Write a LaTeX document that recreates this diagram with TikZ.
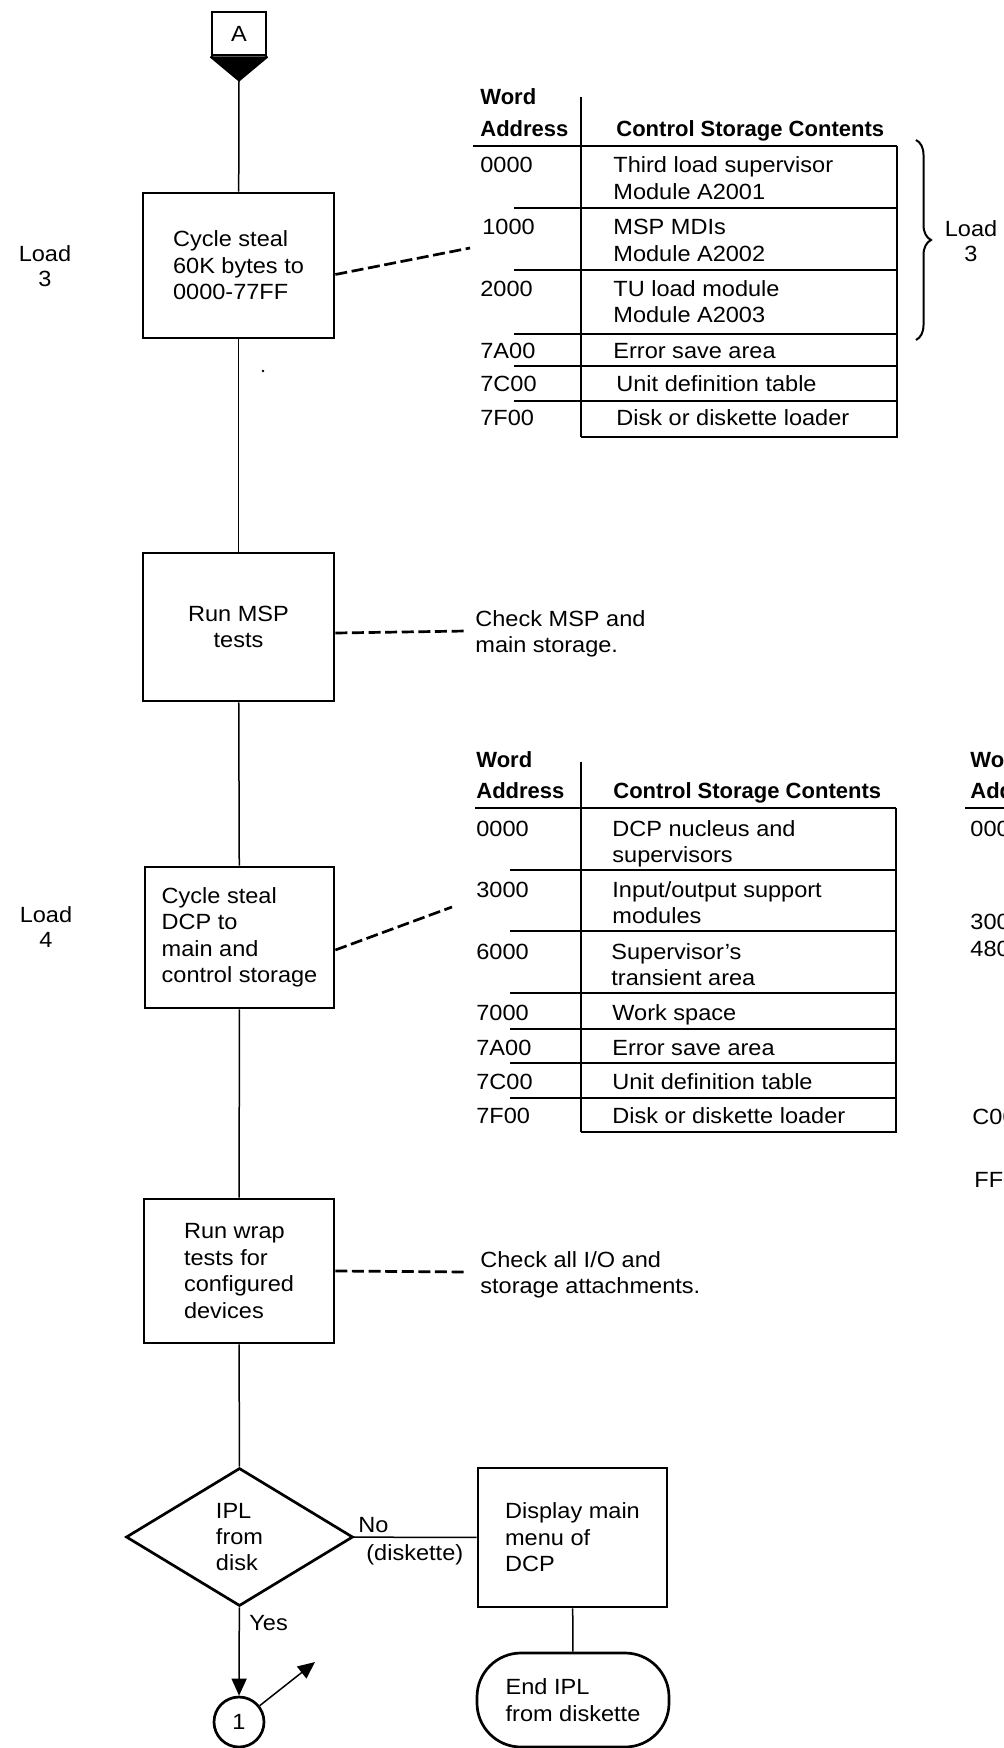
\documentclass[tikz,border=0pt]{standalone}
\usepackage{fontspec}
\setmainfont{Liberation Sans}[FakeStretch=1.07]
\newfontfamily\hdrfont{Liberation Sans}
\usetikzlibrary{shapes.geometric,arrows.meta,decorations.pathreplacing,calc}
\newcommand\mytcell[4]{\node[txt] (#1) at (#2,#3) {#4};}
\newcommand\myhcell[4]{\node[hdrtxt] (#1) at (#2,#3) {#4};}
\tikzset{
  boxnode/.style={draw, line width=1.35pt, inner sep=0pt, align=left},
  flowline/.style={line width=0.75pt},
  dashconn/.style={line width=1.35pt, dash pattern=on 6pt off 2.3pt},
  tblline/.style={line width=0.7pt},
  txt/.style={inner sep=0pt, anchor=base west},
  hdrtxt/.style={inner sep=0pt, anchor=base west, font=\hdrfont\bfseries\fontsize{11}{13.2}\selectfont},
  lbl/.style={inner sep=0pt, align=center, font=\fontsize{11}{12.5}\selectfont},
  arr/.style={-{Triangle[length=8.5pt,width=7.5pt]}}
}
\begin{document}
\begin{tikzpicture}[x=0.5pt,y=-0.5pt, every node/.style={font=\fontsize{11}{13.2}\selectfont}]
\useasboundingbox (0,0) rectangle (1004,1748);
\clip (0,0) rectangle (1004,1748);

% off-page connector A
\node[draw, line width=1.35pt, minimum width=27pt, minimum height=21.5pt, inner sep=0pt] (A) at (239,33.5) {A};
\coordinate (Atip) at (239,80);
\fill (A.south west) -- (A.south east) -- (Atip) -- cycle;
\draw[line width=1.35pt] (A.south west) -- (Atip) -- (A.south east);

% process boxes
\node[boxnode, minimum width=95.5pt, minimum height=72.5pt] (b1) at (238.5,265.5) {Cycle steal\\60K bytes to\\0000-77FF};
\node[boxnode, align=center, minimum width=95.5pt, minimum height=74pt] (b2) at (238.5,627) {Run MSP\\tests};
\node[boxnode, minimum width=94.5pt, minimum height=70.5pt] (b3) at (239.5,937.5) {Cycle steal\\DCP to\\main and\\control storage};
\node[boxnode, minimum width=95pt, minimum height=72pt] (b4) at (239,1271) {Run wrap\\tests for\\configured\\devices};
\node[draw, diamond, line width=1.35pt, minimum width=113.5pt, minimum height=69pt, inner sep=0pt, align=left] (dia) at (239.5,1537) {IPL\\from\\disk};
\node[boxnode, minimum width=94.5pt, minimum height=69.5pt] (b5) at (572.5,1537.5) {Display main\\menu of\\DCP};
\node[draw, line width=1.35pt, rounded corners=22pt, minimum width=96pt, minimum height=47pt, inner sep=0pt, align=left] (term) at (573,1700) {End IPL\\from diskette};
\node[draw, circle, line width=1.35pt, minimum size=25pt, inner sep=0pt] (c1) at (239,1722) {1};
\coordinate (out) at (315,1662);

% flow connectors
\draw[flowline] (Atip) -- (b1);
\draw[flowline] (b1) -- (b2);
\draw[flowline] (b2) -- (b3);
\draw[flowline] (b3) -- (b4);
\draw[flowline] (b4) -- (dia);
\draw[flowline, arr] (dia) -- (c1);
\draw[flowline] (dia) -- (b5);
\draw[flowline] (b5) -- (term);
\draw[flowline, arr] (c1) -- (out);

\node[txt] (no) at (358,1532) {No};
\node[txt] (nodk) at (366,1560) {(diskette)};
\node[txt] (yes) at (249,1630) {Yes};

% dashed annotation connectors
\coordinate (d1e) at (470,248);
\coordinate (d2e) at (467,631);
\coordinate (d3e) at (452,907);
\coordinate (d4e) at (468,1272);
\draw[dashconn] ([yshift=-4.5pt]b1.east) -- (d1e);
\draw[dashconn] ([yshift=-3pt]b2.east) -- (d2e);
\draw[dashconn] ([yshift=-6.25pt]b3.east) -- (d3e);
\draw[dashconn] (b4.east) -- (d4e);

\node[inner sep=0pt, anchor=west, align=left] (n1) at (475,634) {Check MSP and\\main storage.};
\node[inner sep=0pt, anchor=west, align=left] (n2) at (480,1274.5) {Check all I/O and\\storage attachments.};

% load labels
\node[lbl] (l3a) at (45,266.5) {Load\\3};
\node[lbl] (l4) at (46,927.5) {Load\\4};
\node[lbl] (l3b) at (971,241.5) {Load\\3};

% speck
\fill (263,371) circle (0.7pt);

% ---------- table 1 ----------
\draw[tblline] (581,97) -- (581,437);
\draw[tblline] (473,146) -- (897,146);
\draw[tblline] (897,146) -- (897,437) -- (581,437);
\foreach \yy in {208,270,334,366,401} { \draw[tblline] (514,\yy) -- (897,\yy); }
\draw[line width=1pt, decorate, decoration={brace, amplitude=7.5pt}] (916,140) -- (916,340);

\myhcell{t1w}{480}{105}{Word}
\myhcell{t1a}{480}{137}{Address}
\myhcell{t1h}{616}{137}{Control Storage Contents}
\mytcell{t1a1}{480}{173}{0000}
\mytcell{t1c1}{613}{173}{Third load supervisor}
\mytcell{t1d1}{613}{200}{Module A2001}
\mytcell{t1a2}{482}{235}{1000}
\mytcell{t1c2}{613}{235}{MSP MDIs}
\mytcell{t1d2}{613}{262}{Module A2002}
\mytcell{t1a3}{480}{297}{2000}
\mytcell{t1c3}{613}{297}{TU load module}
\mytcell{t1d3}{613}{323}{Module A2003}
\mytcell{t1a4}{480}{359}{7A00}
\mytcell{t1c4}{613}{359}{Error save area}
\mytcell{t1a5}{480}{392}{7C00}
\mytcell{t1c5}{616}{392}{Unit definition table}
\mytcell{t1a6}{480}{426}{7F00}
\mytcell{t1c6}{616}{426}{Disk or diskette loader}

% ---------- table 2 ----------
\draw[tblline] (581,762) -- (581,1132);
\draw[tblline] (475,808) -- (896,808);
\draw[tblline] (896,808) -- (896,1132) -- (581,1132);
\foreach \yy in {870,931,993,1029,1063,1098} { \draw[tblline] (510,\yy) -- (896,\yy); }

\myhcell{t2w}{476}{767}{Word}
\myhcell{t2a}{476}{798}{Address}
\myhcell{t2h}{613}{798}{Control Storage Contents}
\mytcell{t2a1}{476}{836}{0000}
\mytcell{t2c1}{612}{836}{DCP nucleus and}
\mytcell{t2d1}{612}{862}{supervisors}
\mytcell{t2a2}{476}{897}{3000}
\mytcell{t2c2}{612}{897}{Input/output support}
\mytcell{t2d2}{612}{923}{modules}
\mytcell{t2a3}{476}{959}{6000}
\mytcell{t2c3}{611}{959}{Supervisor's}
\mytcell{t2d3}{611}{985}{transient area}
\mytcell{t2a4}{476}{1020}{7000}
\mytcell{t2c4}{612}{1020}{Work space}
\mytcell{t2a5}{476}{1055}{7A00}
\mytcell{t2c5}{612}{1055}{Error save area}
\mytcell{t2a6}{476}{1089}{7C00}
\mytcell{t2c6}{612}{1089}{Unit definition table}
\mytcell{t2a7}{476}{1123}{7F00}
\mytcell{t2c7}{612}{1123}{Disk or diskette loader}

% ---------- table 3 (cut off at the right edge) ----------
\myhcell{t3w}{970}{767}{Word}
\myhcell{t3a}{970}{798}{Address}
\draw[tblline] (965,808) -- (1010,808);
\mytcell{t3a1}{970}{836}{0000}
\mytcell{t3a2}{970}{929}{3000}
\mytcell{t3a3}{970}{956}{4800}
\mytcell{t3a4}{972}{1124}{C000}
\mytcell{t3a5}{974}{1187}{FF00}
\end{tikzpicture}
\end{document}
